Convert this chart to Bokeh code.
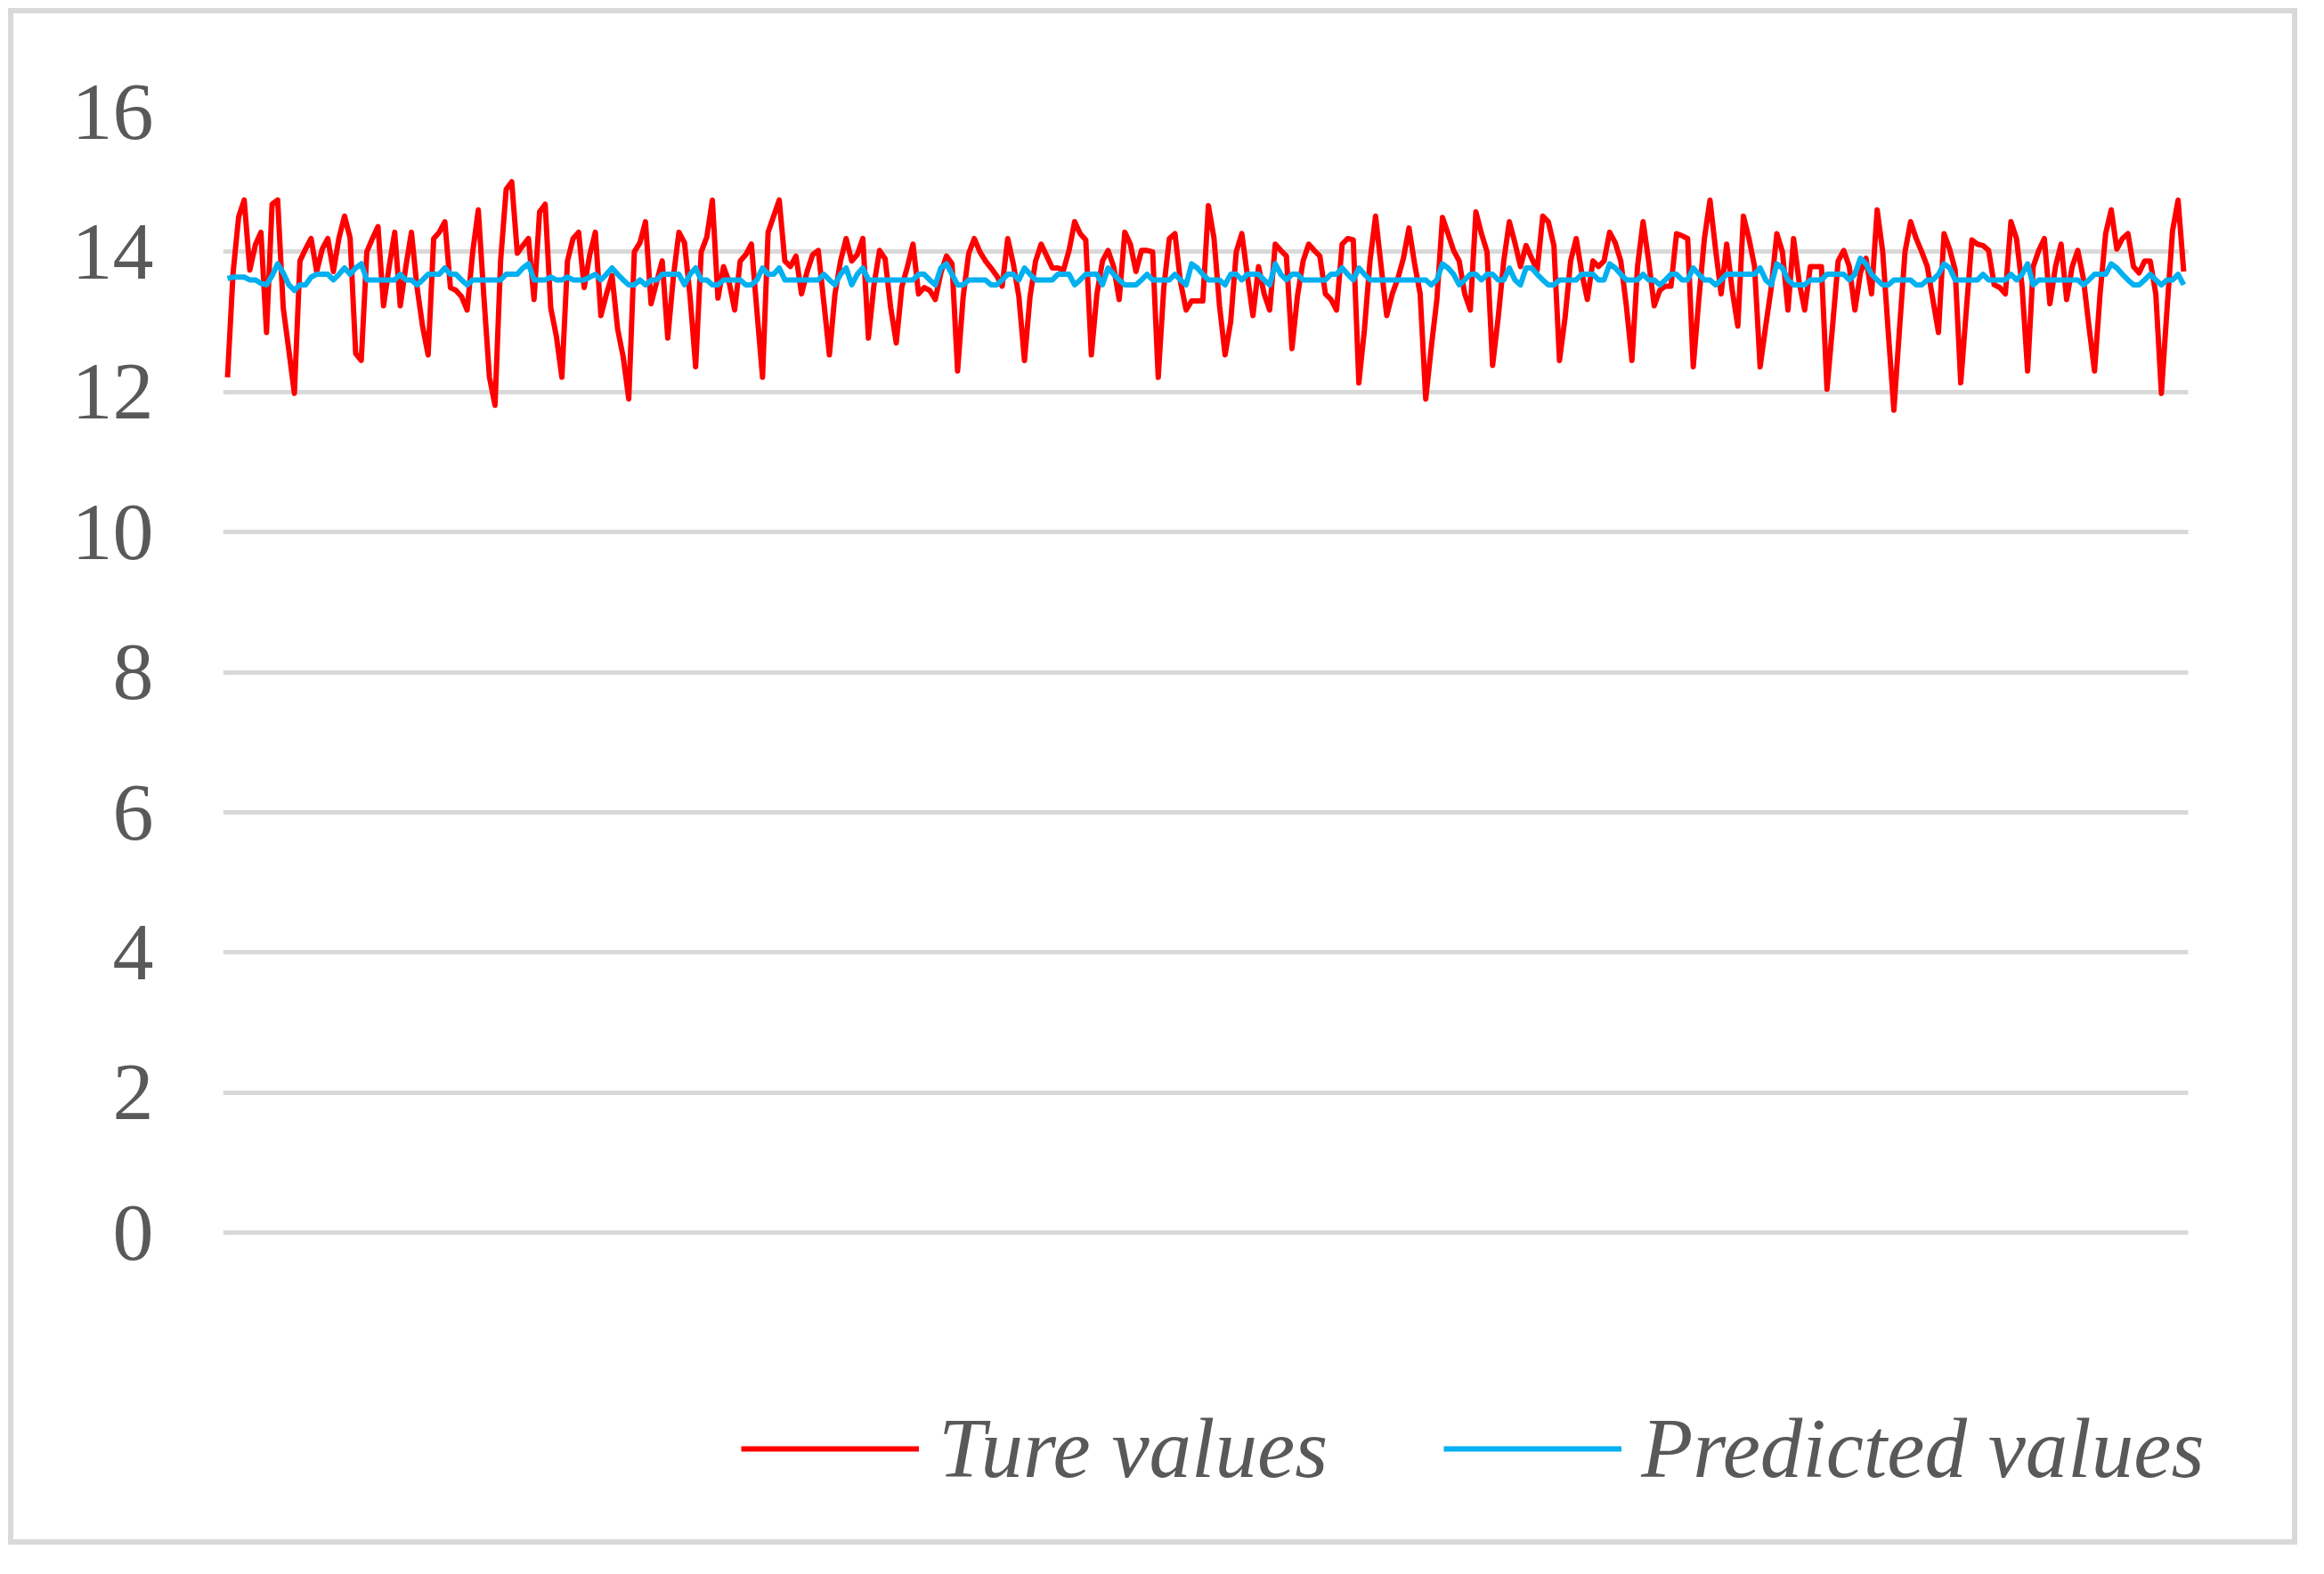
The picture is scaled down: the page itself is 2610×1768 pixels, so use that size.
from bokeh.plotting import figure
from bokeh.models import Legend, LegendItem, FixedTicker, Range1d
from bokeh.embed import file_html
from bokeh.resources import INLINE

# ---- data ----
true_values = [
    12.21, 13.7, 14.5, 14.74, 13.74, 14.1, 14.28, 12.85, 14.68, 14.74,
    13.2, 12.6, 11.98, 13.87, 14.04, 14.19, 13.72, 14.04, 14.19, 13.72,
    14.2, 14.51, 14.2, 12.55, 12.45, 14.0, 14.19, 14.36, 13.23, 13.79,
    14.28, 13.23, 13.79, 14.28, 13.5, 12.94, 12.53, 14.19, 14.28, 14.43,
    13.49, 13.45, 13.36, 13.17, 14.0, 14.6, 13.36, 12.21, 11.81, 13.87,
    14.89, 15.0, 13.98, 14.09, 14.19, 13.32, 14.57, 14.68, 13.2, 12.8,
    12.21, 13.87, 14.19, 14.28, 13.49, 13.96, 14.28, 13.09, 13.4, 13.66,
    12.9, 12.5, 11.9, 14.0, 14.13, 14.43, 13.26, 13.57, 13.87, 12.77,
    13.64, 14.28, 14.13, 13.36, 12.36, 14.0, 14.21, 14.74, 13.34, 13.79,
    13.57, 13.17, 13.87, 13.96, 14.11, 13.15, 12.21, 14.28, 14.51, 14.74,
    13.87, 13.79, 13.94, 13.4, 13.72, 13.96, 14.02, 13.28, 12.53, 13.4,
    13.87, 14.19, 13.87, 13.96, 14.19, 12.77, 13.53, 14.02, 13.9, 13.2,
    12.7, 13.5, 13.79, 14.11, 13.4, 13.49, 13.45, 13.32, 13.7, 13.94,
    13.83, 12.3, 13.36, 13.98, 14.19, 14.0, 13.87, 13.77, 13.66, 13.51,
    14.19, 13.83, 13.36, 12.45, 13.36, 13.87, 14.11, 13.94, 13.77, 13.77,
    13.74, 14.02, 14.43, 14.26, 14.17, 12.53, 13.4, 13.87, 14.02, 13.79,
    13.32, 14.28, 14.11, 13.72, 14.02, 14.02, 14.0, 12.21, 13.49, 14.19,
    14.26, 13.57, 13.17, 13.3, 13.3, 13.3, 14.66, 14.2, 13.23, 12.53,
    13.0, 14.0, 14.26, 13.66, 13.09, 13.79, 13.4, 13.17, 14.11, 14.02,
    13.94, 12.62, 13.38, 13.87, 14.11, 14.02, 13.94, 13.4, 13.32, 13.17,
    14.11, 14.19, 14.17, 12.13, 12.89, 13.87, 14.51, 13.79, 13.09, 13.4,
    13.62, 13.91, 14.34, 13.83, 13.4, 11.9, 12.64, 13.32, 14.49, 14.26,
    14.02, 13.87, 13.4, 13.17, 14.57, 14.26, 14.0, 12.38, 13.06, 13.87,
    14.43, 14.13, 13.79, 14.09, 13.91, 13.74, 14.51, 14.43, 14.09, 12.45,
    13.06, 13.87, 14.19, 13.7, 13.32, 13.87, 13.79, 13.87, 14.28, 14.13,
    13.87, 13.23, 12.45, 13.79, 14.43, 13.87, 13.23, 13.45, 13.51, 13.51,
    14.26, 14.23, 14.19, 12.36, 13.32, 14.19, 14.74, 14.04, 13.4, 14.11,
    13.45, 12.94, 14.51, 14.19, 13.79, 12.36, 12.94, 13.49, 14.26, 14.0,
    13.17, 14.19, 13.57, 13.17, 13.79, 13.79, 13.79, 12.04, 12.94, 13.87,
    14.02, 13.79, 13.17, 13.7, 13.91, 13.4, 14.6, 14.0, 12.85, 11.74,
    12.89, 14.0, 14.43, 14.19, 14.0, 13.79, 13.32, 12.85, 14.26, 14.04,
    13.74, 12.13, 13.17, 14.17, 14.11, 14.09, 14.02, 13.53, 13.49, 13.4,
    14.43, 14.19, 13.51, 12.3, 13.79, 14.02, 14.19, 13.26, 13.79, 14.11,
    13.32, 13.79, 14.02, 13.62, 12.94, 12.3, 13.4, 14.26, 14.6, 14.04,
    14.19, 14.26, 13.79, 13.7, 13.87, 13.87, 13.4, 11.98, 13.17, 14.3,
    14.74, 13.72,
]

predicted_values = [
    13.62, 13.64, 13.64, 13.64, 13.6, 13.6, 13.55, 13.53, 13.66, 13.83,
    13.7, 13.53, 13.45, 13.53, 13.53, 13.64, 13.68, 13.68, 13.68, 13.6,
    13.68, 13.77, 13.68, 13.77, 13.83, 13.6, 13.6, 13.6, 13.6, 13.6,
    13.6, 13.68, 13.6, 13.6, 13.53, 13.6, 13.68, 13.68, 13.68, 13.77,
    13.68, 13.68, 13.6, 13.53, 13.6, 13.6, 13.6, 13.6, 13.6, 13.6,
    13.68, 13.68, 13.68, 13.77, 13.83, 13.6, 13.6, 13.6, 13.64, 13.6,
    13.6, 13.64, 13.6, 13.6, 13.6, 13.64, 13.68, 13.6, 13.68, 13.77,
    13.68, 13.6, 13.53, 13.53, 13.6, 13.53, 13.6, 13.6, 13.68, 13.68,
    13.68, 13.68, 13.53, 13.68, 13.77, 13.6, 13.6, 13.53, 13.53, 13.6,
    13.6, 13.6, 13.6, 13.53, 13.53, 13.6, 13.77, 13.68, 13.68, 13.77,
    13.6, 13.6, 13.6, 13.6, 13.6, 13.6, 13.6, 13.68, 13.6, 13.53,
    13.68, 13.77, 13.53, 13.68, 13.77, 13.6, 13.6, 13.6, 13.6, 13.6,
    13.6, 13.6, 13.6, 13.6, 13.68, 13.68, 13.6, 13.53, 13.77, 13.83,
    13.68, 13.53, 13.53, 13.6, 13.6, 13.6, 13.6, 13.53, 13.53, 13.6,
    13.68, 13.68, 13.6, 13.77, 13.68, 13.6, 13.6, 13.6, 13.6, 13.68,
    13.68, 13.68, 13.53, 13.6, 13.68, 13.68, 13.68, 13.53, 13.77, 13.68,
    13.6, 13.53, 13.53, 13.53, 13.6, 13.68, 13.6, 13.6, 13.6, 13.6,
    13.68, 13.6, 13.53, 13.83, 13.77, 13.68, 13.6, 13.6, 13.6, 13.53,
    13.68, 13.68, 13.6, 13.68, 13.68, 13.68, 13.6, 13.53, 13.83, 13.68,
    13.6, 13.68, 13.68, 13.6, 13.6, 13.6, 13.6, 13.6, 13.68, 13.68,
    13.77, 13.68, 13.6, 13.77, 13.68, 13.6, 13.6, 13.6, 13.6, 13.6,
    13.6, 13.6, 13.6, 13.6, 13.6, 13.6, 13.53, 13.6, 13.83, 13.77,
    13.68, 13.53, 13.6, 13.68, 13.68, 13.6, 13.68, 13.68, 13.6, 13.6,
    13.77, 13.6, 13.53, 13.77, 13.77, 13.68, 13.6, 13.53, 13.53, 13.6,
    13.6, 13.6, 13.6, 13.68, 13.68, 13.68, 13.6, 13.6, 13.83, 13.77,
    13.68, 13.6, 13.6, 13.6, 13.68, 13.6, 13.6, 13.53, 13.6, 13.68,
    13.68, 13.6, 13.6, 13.77, 13.68, 13.6, 13.6, 13.53, 13.6, 13.68,
    13.68, 13.68, 13.68, 13.68, 13.68, 13.77, 13.6, 13.53, 13.83, 13.77,
    13.6, 13.53, 13.53, 13.53, 13.6, 13.6, 13.6, 13.68, 13.68, 13.68,
    13.68, 13.6, 13.68, 13.91, 13.83, 13.68, 13.6, 13.53, 13.53, 13.6,
    13.6, 13.6, 13.6, 13.53, 13.53, 13.6, 13.6, 13.68, 13.83, 13.77,
    13.6, 13.6, 13.6, 13.6, 13.6, 13.68, 13.6, 13.6, 13.6, 13.6,
    13.68, 13.6, 13.68, 13.83, 13.53, 13.6, 13.6, 13.6, 13.6, 13.6,
    13.6, 13.6, 13.6, 13.53, 13.6, 13.68, 13.68, 13.68, 13.83, 13.77,
    13.68, 13.6, 13.53, 13.53, 13.6, 13.68, 13.6, 13.53, 13.6, 13.6,
    13.68, 13.53,
]

y_ticks = [0, 2, 4, 6, 8, 10, 12, 14, 16]
series_names = ["Ture values", "Predicted values"]
series_colors = ["#FF0000", "#00B0F0"]

x = list(range(len(true_values)))
n = len(true_values)

# ---- figure ----
# frame extends to the right of the gridlines so that the legend is not clipped
px_per_unit = 6.259
frame_px = 2560 - 258
x_start = -0.8
x_end = x_start + frame_px / px_per_unit

p = figure(
    width=2589, height=1744,
    output_backend="svg", toolbar_location=None,
    x_axis_location=None,
    x_range=Range1d(x_start, x_end),
    y_range=Range1d(-3.91, 16),
    min_border_left=250, min_border_right=37,
    min_border_top=125, min_border_bottom=52,
    background_fill_color="white", border_fill_color=None,
)
# chart-area border drawn as an inset outline (9px inside the canvas edge)
p.styles = {"outline": "6px solid #d9d9d9", "outline-offset": "-15px"}
p.outline_line_color = None
p.xgrid.visible = False
p.ygrid.ticker = FixedTicker(ticks=y_ticks)
p.ygrid.grid_line_color = "#d9d9d9"
p.ygrid.grid_line_width = 5
p.ygrid.cross_bounds = (x_start, n - 1 + 0.8)

ax = p.yaxis[0]
ax.ticker = FixedTicker(ticks=y_ticks)
ax.axis_line_color = None
ax.major_tick_line_color = None
ax.minor_tick_line_color = None
ax.major_tick_out = 0
ax.major_tick_in = 0
ax.major_label_standoff = 78
ax.major_label_text_font = "Liberation Serif"
ax.major_label_text_font_size = "92px"
ax.major_label_text_color = "#595959"

r_true = p.line(x, true_values, line_color=series_colors[0], line_width=6,
                line_join="round")
r_pred = p.line(x, predicted_values, line_color=series_colors[1], line_width=6,
                line_join="round")

legend = Legend(
    items=[LegendItem(label=series_names[0], renderers=[r_true]),
           LegendItem(label=series_names[1], renderers=[r_pred])],
    orientation="horizontal",
    location=(582, 10),
    glyph_width=200, glyph_height=60,
    label_standoff=22, spacing=130,
    padding=0, margin=0,
    border_line_color=None, background_fill_alpha=0,
    label_text_font="Liberation Serif", label_text_font_style="italic",
    label_text_font_size="95px", label_text_color="#595959",
)
p.add_layout(legend)

open("out.html", "w").write(file_html(p, INLINE))
